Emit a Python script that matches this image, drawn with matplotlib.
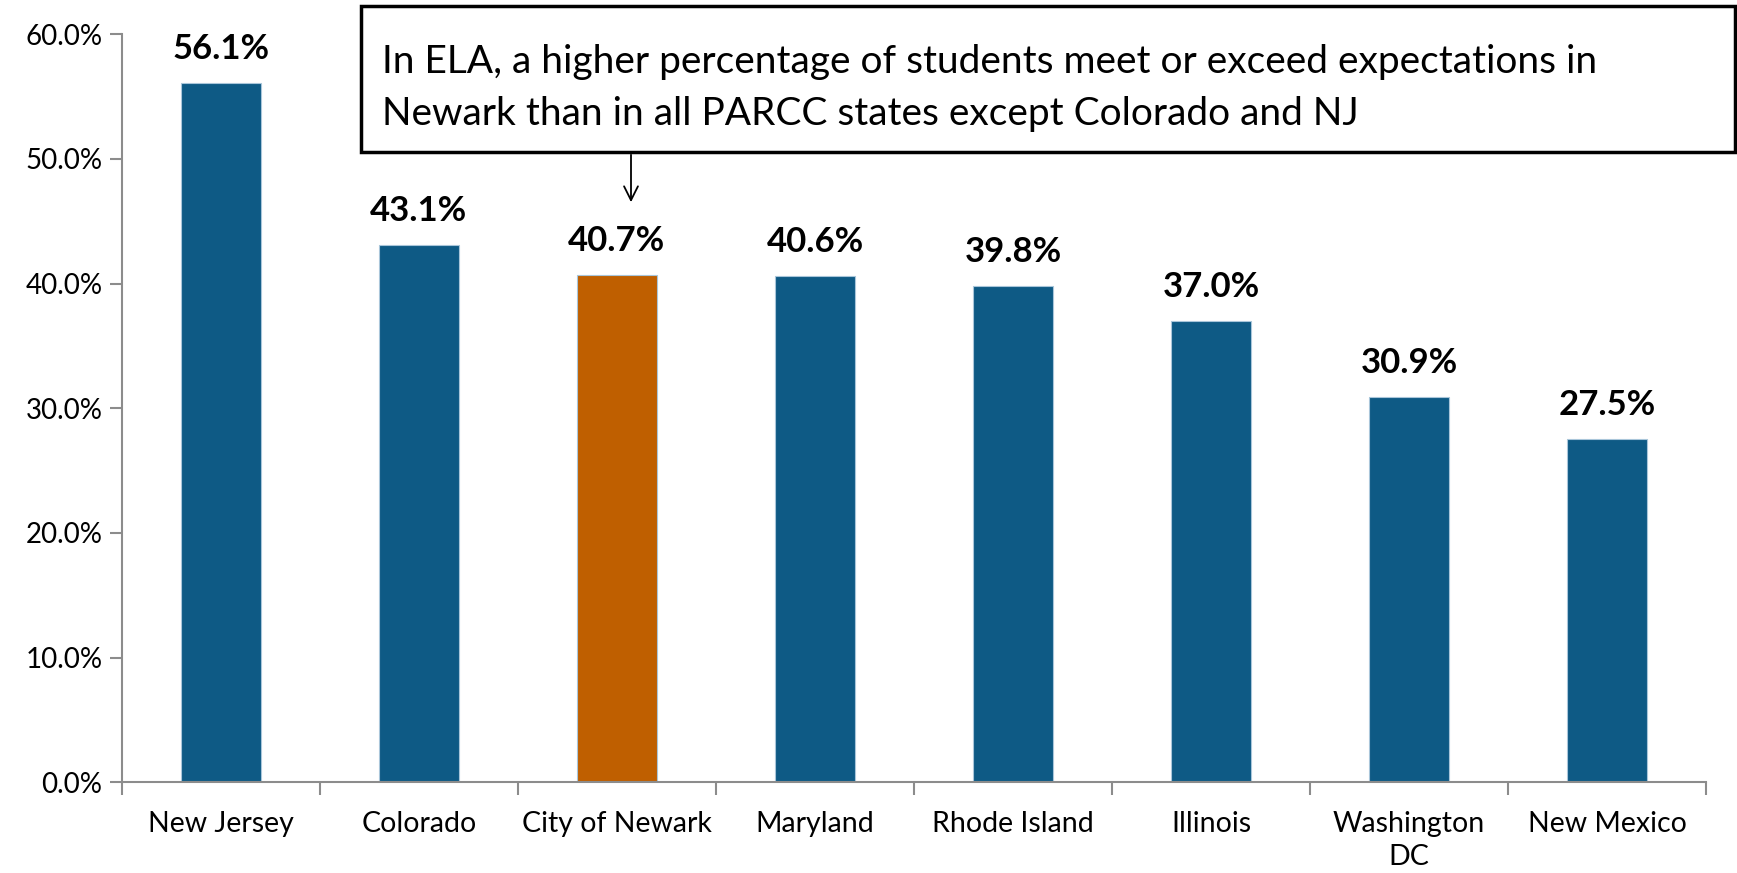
import matplotlib
matplotlib.use('Agg')
import matplotlib.pyplot as plt
from matplotlib.patches import Rectangle
from matplotlib.ticker import FixedLocator, PercentFormatter

plt.rcParams['font.family'] = ['Lato', 'DejaVu Sans']

categories = ['New Jersey', 'Colorado', 'City of Newark', 'Maryland',
              'Rhode Island', 'Illinois', 'Washington\nDC', 'New Mexico']
values = [56.1, 43.1, 40.7, 40.6, 39.8, 37.0, 30.9, 27.5]
highlight = 'City of Newark'
note = ('In ELA, a higher percentage of students meet or exceed expectations in\n'
        'Newark than in all PARCC states except Colorado and NJ')

blue = '#0E5A85'
orange = '#BF5F00'
axis_grey = '#8C8C8C'

fig = plt.figure(figsize=(17.37, 8.73), dpi=100)
ax = fig.add_axes([0.0702, 0.104, 0.912, 0.8567])

colors = [orange if c == highlight else blue for c in categories]
x = list(range(len(categories)))
bars = ax.bar(x, values, width=0.40, color=colors, edgecolor='#A9C6DA',
              linewidth=0.8, zorder=2)

for b, v in zip(bars, values):
    ax.annotate(f'{v:.1f}%', (b.get_x() + b.get_width() / 2, v),
                xytext=(0, 13), textcoords='offset points',
                ha='center', va='bottom', fontsize=25, fontweight='bold',
                color='black')

ax.set_xlim(-0.5, len(categories) - 0.5)
ax.set_ylim(0, 60)
ax.yaxis.set_major_locator(FixedLocator([0, 10, 20, 30, 40, 50, 60]))
ax.yaxis.set_major_formatter(PercentFormatter(decimals=1))

ax.set_xticks(x)
ax.set_xticklabels(categories, fontsize=20.5, linespacing=1.3)
ax.xaxis.set_minor_locator(FixedLocator([i - 0.5 for i in range(len(categories) + 1)]))
ax.tick_params(axis='x', which='major', length=0, pad=21)
ax.tick_params(axis='x', which='minor', length=9, width=1.5, color=axis_grey)
ax.tick_params(axis='y', length=9, width=1.5, color=axis_grey, labelsize=20, pad=5)

for side in ['top', 'right']:
    ax.spines[side].set_visible(False)
for side in ['left', 'bottom']:
    ax.spines[side].set_color(axis_grey)
    ax.spines[side].set_linewidth(1.5)

# callout box
W, H = 1737, 873
box = Rectangle((361 / W, 1 - 152 / H), (1735 - 361) / W, (152 - 6) / H,
                transform=fig.transFigure, fill=True, facecolor='white',
                edgecolor='black', linewidth=2.5, zorder=5)
fig.patches.append(box)
fig.text(382 / W, 1 - 88 / H, note, fontsize=28, ha='left', va='center',
         linespacing=1.55, zorder=6)
ax.annotate('', xy=(631 / W, 1 - 205 / H), xytext=(631 / W, 1 - 152 / H),
            xycoords='figure fraction', textcoords='figure fraction',
            arrowprops=dict(arrowstyle='->', color='black', lw=1.3,
                            mutation_scale=25))

fig.savefig('out.png', dpi=100)
